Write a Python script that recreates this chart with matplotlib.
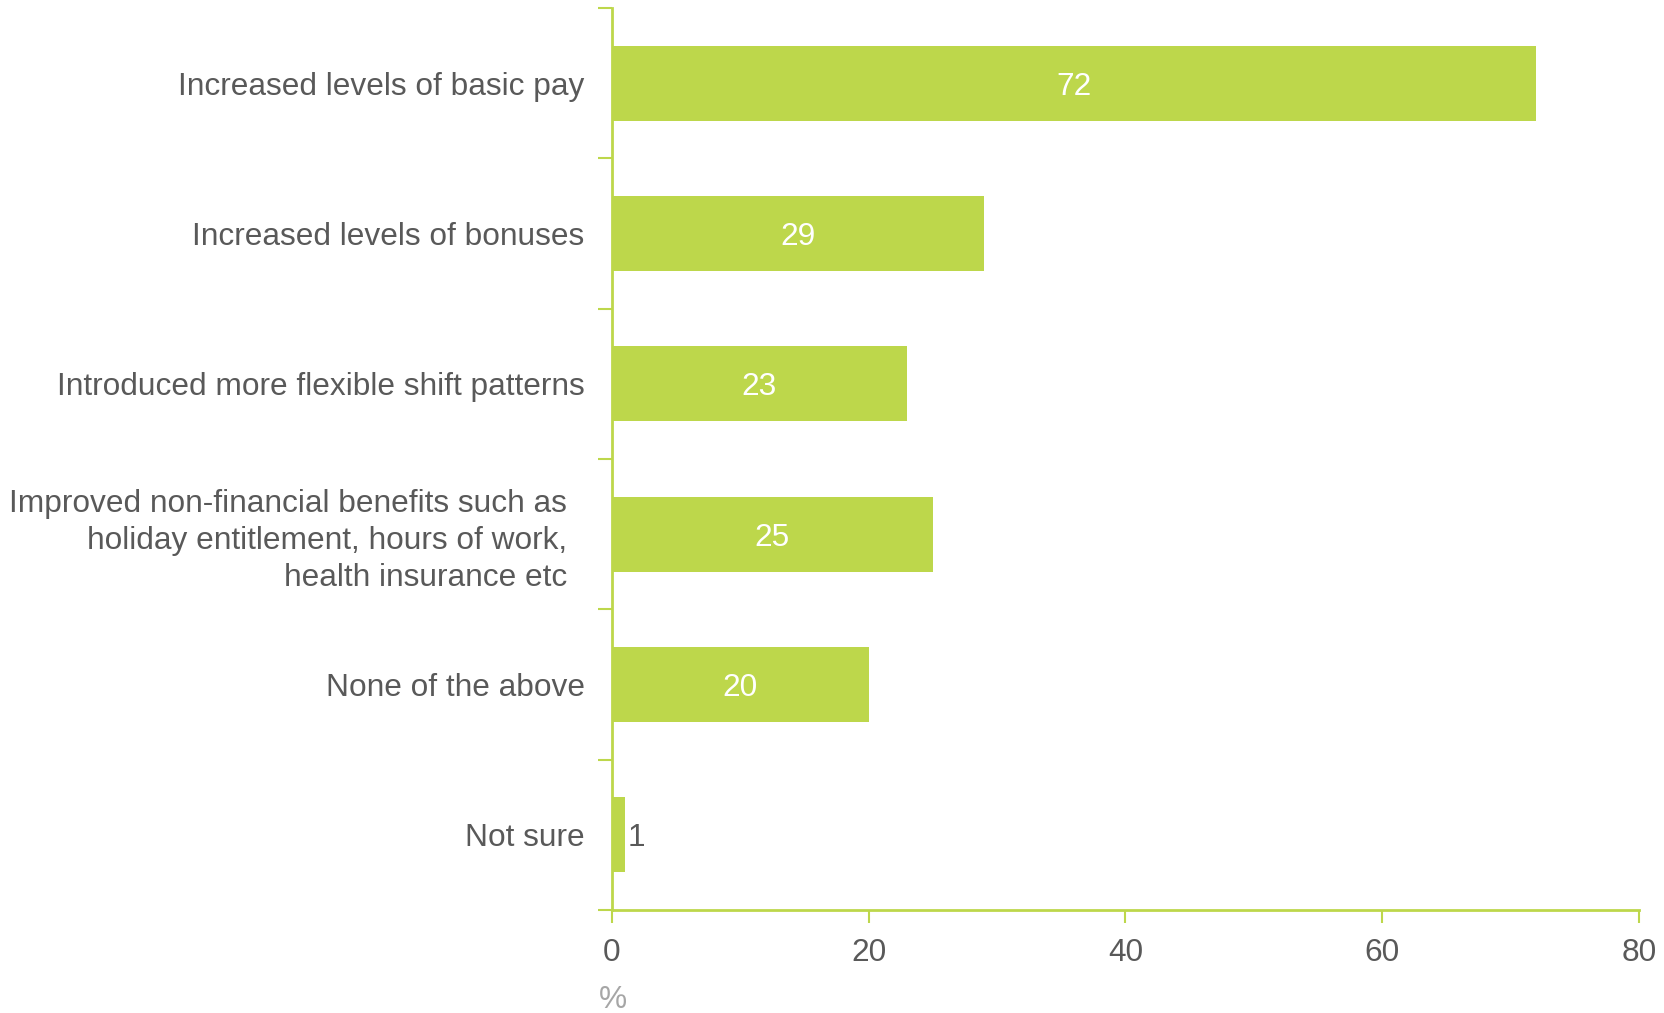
import matplotlib
matplotlib.use("Agg")
import matplotlib.pyplot as plt
from matplotlib.transforms import blended_transform_factory

plt.rcParams["font.family"] = ["Liberation Sans", "DejaVu Sans"]

categories = [
    "Increased levels of basic pay",
    "Increased levels of bonuses",
    "Introduced more flexible shift patterns",
    "Improved non-financial benefits such as  \nholiday entitlement, hours of work,  \nhealth insurance etc  ",
    "None of the above",
    "Not sure",
]
values = [72, 29, 23, 25, 20, 1]
x_ticks = [0, 20, 40, 60, 80]

GREEN = "#bdd74b"
TEXT = "#595959"
FS = 22.8

fig = plt.figure(figsize=(16.64, 10.13), dpi=100)
ax = fig.add_axes([0.3676, 0.1017, 0.985 - 0.3676, 0.992 - 0.1017])

n = len(categories)
ypos = list(range(n))
ax.barh(ypos, values, height=0.5, color=GREEN)
ax.set_ylim(n - 0.5, -0.5)
ax.set_xlim(0, 80)

for y, v in zip(ypos, values):
    if v >= 5:
        ax.text(v / 2, y, str(v), ha="center", va="center_baseline", color="white", fontsize=FS)
    else:
        ax.text(v + 0.25, y, str(v), ha="left", va="center_baseline", color=TEXT, fontsize=FS)

ax.set_yticks(ypos)
ax.set_yticklabels(categories, fontsize=FS, color=TEXT, linespacing=1.3)
ax.set_yticks([i - 0.5 for i in range(n + 1)], minor=True)
ax.tick_params(axis="y", which="major", length=0, pad=19.5)
ax.tick_params(axis="y", which="minor", length=10, width=1.5, color=GREEN)

ax.set_xticks(x_ticks)
ax.set_xticklabels([str(t) for t in x_ticks], fontsize=FS, color=TEXT)
ax.tick_params(axis="x", length=9, width=1.5, color=GREEN, pad=11)

for side in ("top", "right"):
    ax.spines[side].set_visible(False)
for side in ("left", "bottom"):
    ax.spines[side].set_color(GREEN)
    ax.spines[side].set_linewidth(2)

trans = blended_transform_factory(ax.transData, fig.transFigure)
ax.text(0.1, 1 - 1000 / 1013, "%", transform=trans, ha="center", va="center",
        color="#a6a6a6", fontsize=FS)

fig.savefig("out.png", dpi=100)
